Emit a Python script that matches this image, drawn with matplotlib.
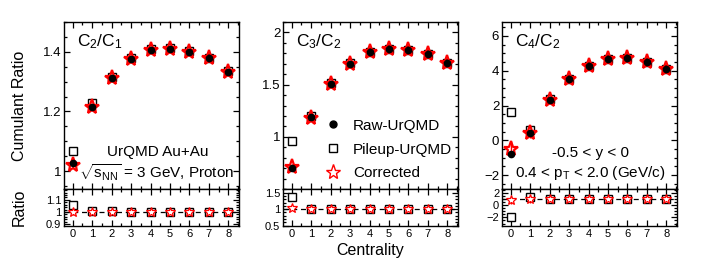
import matplotlib
matplotlib.use("Agg")
import matplotlib.pyplot as plt
from matplotlib.ticker import MultipleLocator, FixedLocator
from matplotlib.lines import Line2D
import numpy as np

plt.rcParams['font.family'] = ['Liberation Sans', 'DejaVu Sans']
plt.rcParams['mathtext.fontset'] = 'custom'
plt.rcParams['mathtext.rm'] = 'Liberation Sans'
plt.rcParams['mathtext.it'] = 'Liberation Sans'

centrality = [0, 1, 2, 3, 4, 5, 6, 7, 8]

# C2/C1
c21_raw = [1.026, 1.216, 1.311, 1.376, 1.406, 1.411, 1.401, 1.379, 1.334]
c21_pileup = [1.067, 1.228, 1.315, 1.378, 1.408, 1.412, 1.402, 1.380, 1.335]
c21_corr = [1.022, 1.215, 1.311, 1.376, 1.406, 1.411, 1.401, 1.379, 1.334]
c21_corr_err = [0.008, 0.006, 0.005, 0.005, 0.005, 0.005, 0.005, 0.005, 0.006]
c21_ratio_pileup = [1.055, 1.010, 1.005, 1.003, 1.002, 1.001, 1.001, 1.001, 1.001]
c21_ratio_corr = [0.997, 1.000, 1.000, 1.000, 1.000, 1.000, 1.000, 1.000, 1.000]
c21_ratio_err = [0.02, 0.02, 0.02, 0.02, 0.02, 0.02, 0.02, 0.02, 0.02]

# C3/C2
c32_raw = [0.70, 1.19, 1.51, 1.70, 1.81, 1.845, 1.835, 1.79, 1.71]
c32_pileup = [0.96, 1.20, 1.515, 1.705, 1.81, 1.845, 1.835, 1.79, 1.71]
c32_corr = [0.71, 1.185, 1.51, 1.70, 1.81, 1.845, 1.835, 1.79, 1.71]
c32_corr_err = [0.03, 0.03, 0.02, 0.02, 0.02, 0.02, 0.02, 0.02, 0.03]
c32_ratio_pileup = [1.38, 1.01, 1.005, 1.0, 1.0, 1.0, 1.0, 1.0, 1.0]
c32_ratio_corr = [1.02, 1.0, 1.0, 1.0, 1.0, 1.0, 1.0, 1.0, 1.0]
c32_ratio_err = [0.06, 0.05, 0.05, 0.05, 0.05, 0.05, 0.05, 0.05, 0.05]

# C4/C2
c42_raw = [-0.77, 0.42, 2.34, 3.52, 4.27, 4.66, 4.74, 4.50, 4.10]
c42_pileup = [1.60, 0.57, 2.36, 3.53, 4.28, 4.66, 4.74, 4.50, 4.10]
c42_corr = [-0.50, 0.40, 2.34, 3.52, 4.27, 4.66, 4.74, 4.50, 4.10]
c42_corr_err = [0.48, 0.25, 0.18, 0.18, 0.18, 0.18, 0.18, 0.2, 0.2]
c42_ratio_pileup = [-2.0, 1.35, 1.01, 1.0, 1.0, 1.0, 1.0, 1.0, 1.0]
c42_ratio_corr = [0.81, 1.0, 1.0, 1.0, 1.0, 1.0, 1.0, 1.0, 1.0]
c42_ratio_err = [0.6, 0.6, 0.6, 0.6, 0.6, 0.6, 0.6, 0.6, 0.6]

panels = [
    dict(raw=c21_raw, pile=c21_pileup, corr=c21_corr, err=c21_corr_err,
         rp=c21_ratio_pileup, rc=c21_ratio_corr, rerr=c21_ratio_err,
         ylim=(0.94, 1.5), ymaj=[1.0, 1.2, 1.4], ymin=0.05, ylab=['1', '1.2', '1.4'],
         rylim=(0.885, 1.19), rmaj=[0.9, 1.0, 1.1], rmin=0.02, rlab=['0.9', '1', '1.1'],
         title=r'C$_2$/C$_1$'),
    dict(raw=c32_raw, pile=c32_pileup, corr=c32_corr, err=c32_corr_err,
         rp=c32_ratio_pileup, rc=c32_ratio_corr, rerr=c32_ratio_err,
         ylim=(0.5, 2.1), ymaj=[1.0, 1.5, 2.0], ymin=0.1, ylab=['1', '1.5', '2'],
         rylim=(0.49, 1.61), rmaj=[0.5, 1.0, 1.5], rmin=0.1, rlab=['0.5', '1', '1.5'],
         title=r'C$_3$/C$_2$'),
    dict(raw=c42_raw, pile=c42_pileup, corr=c42_corr, err=c42_corr_err,
         rp=c42_ratio_pileup, rc=c42_ratio_corr, rerr=c42_ratio_err,
         ylim=(-2.8, 6.8), ymaj=[-2, 0, 2, 4, 6], ymin=0.5, ylab=['\u22122', '0', '2', '4', '6'],
         rylim=(-3.4, 2.6), rmaj=[-2, 0, 2], rmin=0.5, rlab=['\u22122', '0', '2'],
         title=r'C$_4$/C$_2$'),
]

W, H = 706, 262
fig = plt.figure(figsize=(W / 100, H / 100), dpi=100)

lefts = [64, 283, 502]
pw = 175
top_px, split_px, bot_px = 22, 189, 226

def style(ax, maj, minstep, lab, fs, ticklen=4.5):
    ax.set_xlim(-0.45, 8.55)
    ax.xaxis.set_major_locator(MultipleLocator(1))
    ax.xaxis.set_minor_locator(MultipleLocator(0.5))
    ax.yaxis.set_major_locator(FixedLocator(maj))
    ax.yaxis.set_minor_locator(MultipleLocator(minstep))
    ax.set_yticklabels(lab)
    ax.tick_params(which='both', direction='in', top=True, right=True, width=0.9,
                   labelsize=fs, pad=2)
    ax.tick_params(which='major', length=ticklen)
    ax.tick_params(which='minor', length=ticklen / 2)
    for s in ax.spines.values():
        s.set_linewidth(1.0)

for i, p in enumerate(panels):
    l = lefts[i] / W
    w = pw / W
    ax = fig.add_axes([l, 1 - split_px / H, w, (split_px - top_px) / H])
    axr = fig.add_axes([l, 1 - bot_px / H, w, (bot_px - split_px) / H])

    ax.errorbar(centrality, p['corr'], yerr=p['err'], fmt='none', ecolor='red',
                elinewidth=1.0, capsize=0, zorder=2)
    ax.plot(centrality, p['pile'], ls='none', marker='s', ms=6, mfc='white',
            mec='black', mew=1.0, zorder=3)
    ax.plot(centrality, p['corr'], ls='none', marker='*', ms=11, mfc='none',
            mec='red', mew=1.6, zorder=4)
    ax.plot(centrality, p['raw'], ls='none', marker='o', ms=4.5, mfc='black',
            mec='black', zorder=5)
    ax.set_ylim(*p['ylim'])
    style(ax, p['ymaj'], p['ymin'], p['ylab'], 9.5)
    ax.tick_params(labelbottom=False)
    ax.text(0.075, 0.885, p['title'], transform=ax.transAxes, fontsize=12.5,
            ha='left', va='center')

    axr.axhline(1.0, color='black', ls=(0, (4, 3)), lw=0.9, zorder=1)
    axr.errorbar(centrality, p['rc'], yerr=p['rerr'], fmt='none', ecolor='red',
                 elinewidth=1.0, capsize=0, zorder=2)
    axr.plot(centrality, p['rp'], ls='none', marker='s', ms=5.5, mfc='white',
             mec='black', mew=1.0, zorder=3)
    axr.plot(centrality, p['rc'], ls='none', marker='*', ms=7.5, mfc='white',
             mec='red', mew=0.9, zorder=4)
    axr.set_ylim(*p['rylim'])
    style(axr, p['rmaj'], p['rmin'], p['rlab'], 8, ticklen=4)
    axr.set_xticks(centrality)
    axr.set_xticklabels([str(c) for c in centrality])

    if i == 0:
        ax.set_ylabel('Cumulant Ratio', fontsize=11.5)
        ax.yaxis.set_label_coords(-37 / pw, 0.5)
        axr.set_ylabel('Ratio', fontsize=11.5)
        axr.yaxis.set_label_coords(-37 / pw, 0.5)
        ax.text(0.537, 0.22, 'UrQMD Au+Au', transform=ax.transAxes, fontsize=11,
                ha='center', va='center')
        ax.text(0.53, 0.096, r'$\sqrt{s_{\mathrm{NN}}}$ = 3 GeV, Proton',
                transform=ax.transAxes, fontsize=11, ha='center', va='center')
    if i == 1:
        axr.set_xlabel('Centrality', fontsize=11.5, labelpad=3)
        handles = [
            Line2D([], [], ls='none', marker='o', ms=5, mfc='black', mec='black'),
            Line2D([], [], ls='none', marker='s', ms=6, mfc='white', mec='black', mew=1.0),
            Line2D([], [], ls='none', marker='*', ms=11, mfc='white', mec='red', mew=1.0),
        ]
        ax.legend(handles, ['Raw-UrQMD', 'Pileup-UrQMD', 'Corrected'],
                  loc='upper left', bbox_to_anchor=(0.225, 0.44), frameon=False,
                  fontsize=11, handlelength=1.0, handletextpad=0.8,
                  labelspacing=0.65, borderaxespad=0, borderpad=0.2)
    if i == 2:
        ax.text(0.503, 0.216, '-0.5 < y < 0', transform=ax.transAxes, fontsize=11,
                ha='center', va='center')
        ax.text(0.503, 0.096, r'0.4 < p$_{\mathrm{T}}$ < 2.0 (GeV/c)',
                transform=ax.transAxes, fontsize=11, ha='center', va='center')

fig.savefig('out.png', dpi=100)
